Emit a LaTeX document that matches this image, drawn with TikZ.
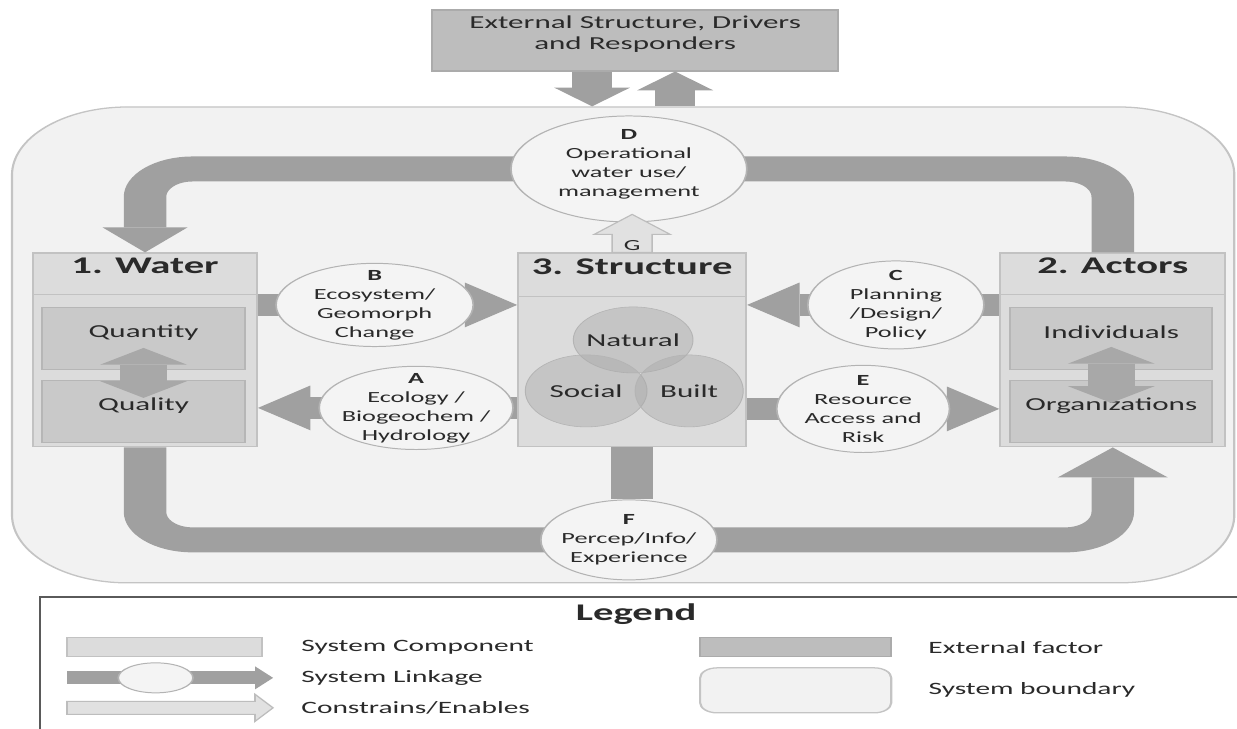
\documentclass[tikz,border=0pt]{standalone}
\usepackage{fontspec}
\setmainfont{Carlito}
\usetikzlibrary{arrows.meta,positioning,fit,shapes.geometric}

\definecolor{sysgray}{HTML}{F2F2F2}
\definecolor{sysline}{HTML}{C4C4C4}
\definecolor{extgray}{HTML}{BDBDBD}
\definecolor{extline}{HTML}{ABABAB}
\definecolor{bandgray}{HTML}{A0A0A0}
\definecolor{pairgray}{HTML}{A8A8A8}
\definecolor{boxgray}{HTML}{DCDCDC}
\definecolor{boxline}{HTML}{C2C2C2}
\definecolor{innergray}{HTML}{C9C9C9}
\definecolor{innerline}{HTML}{B6B6B6}
\definecolor{ovalfill}{HTML}{F4F4F4}
\definecolor{ovalline}{HTML}{B3B3B3}
\definecolor{venngray}{HTML}{A9A9A9}
\definecolor{vennline}{HTML}{B4B4B4}
\definecolor{enablefill}{HTML}{E1E1E1}
\definecolor{enableline}{HTML}{BDBDBD}
\definecolor{legline}{HTML}{5A5A5A}
\definecolor{txtgray}{HTML}{2A2A2A}

\newcommand{\cmptitlefont}{\fontsize{17}{20}\selectfont\bfseries}
\newcommand{\cmpfont}{\fontsize{13}{15}\selectfont}
\newcommand{\lnkfont}{\fontsize{11}{13.5}\selectfont}
\newcommand{\lgdfont}{\fontsize{12.3}{14}\selectfont}

\begin{document}
\begin{tikzpicture}[
  every node/.style={text=txtgray},
  sysbound/.style={draw=sysline, fill=sysgray, line width=0.9pt, inner sep=0pt, rounded corners=1.7cm},
  extbox/.style={draw=extline, fill=extgray, inner sep=0pt, line width=0.8pt, align=center, font=\cmpfont},
  component/.style={draw=boxline, fill=boxgray, inner sep=0pt, line width=0.8pt},
  subbox/.style={draw=innerline, fill=innergray, inner sep=0pt, line width=0.8pt, font=\cmpfont},
  venn/.style={ellipse, draw=vennline, fill=venngray, fill opacity=0.45, text opacity=1, inner sep=0pt},
  linkoval/.style={ellipse, draw=ovalline, fill=ovalfill, inner sep=0pt, line width=0.7pt},
  linktext/.style={align=center, font=\lnkfont},
  linkband/.style={draw=bandgray, line width=0.55cm, -{Triangle[length=0.77cm, width=1.12cm, line width=0pt]}},
  loopband/.style={draw=bandgray, line width=0.625cm, rounded corners=0.7cm},
  extarrow/.style={draw=bandgray, line width=0.59cm, -{Triangle[length=0.47cm, width=1.12cm, line width=0pt]}},
  pairarrow/.style={draw=pairgray, line width=0.69cm, {Triangle[length=0.42cm, width=1.28cm, line width=0pt]}-{Triangle[length=0.42cm, width=1.28cm, line width=0pt]}},
  enablearrow/.style={draw=enableline, fill=enablefill, line width=0.7pt},
  lgdtext/.style={font=\lgdfont},
]
\useasboundingbox (0,0) rectangle (30.925,-18.2);

% picture is stretched sideways, coordinates in pixels
\begin{scope}[x=0.0147059cm, y=-0.025cm, transform canvas={xscale=1.7}]

% system boundary and external factor
\node[sysbound, fit={(12,107) (1234,583)}] (sys) {};
\node[extbox, fit={(432,10) (838,71)}] (ext) {External Structure, Drivers\\and Responders};
\draw[extarrow] (ext.south -| 592,0) -- (sys.north -| 592,0);
\draw[extarrow] (sys.north -| 675,0) -- (ext.south -| 675,0);

% 1. Water
\node[component, fit={(33,253) (257,447)}] (water) {};
\node[component, font=\cmptitlefont, fit={(33,253) (257,295)}] (watertitle) {1. Water};
\node[subbox, fit={(42,308) (245,370)}] (quantity) {Quantity};
\node[subbox, fit={(42,381) (245,443)}] (quality) {Quality};
\draw[pairarrow, shorten <=0.225cm, shorten >=0.35cm] (quantity.center) -- (quality.center);

% 3. Structure
\node[component, fit={(518,253) (746,447)}] (struct) {};
\node[component, font=\cmptitlefont, fit={(518,253) (746,297)}] (structtitle) {3. Structure};
\node[venn, minimum width=1.76cm, minimum height=1.65cm, label={[font=\cmpfont]center:Natural}] (natural) at (633,340) {};
\node[venn, minimum width=1.79cm, minimum height=1.8cm, label={[font=\cmpfont]center:Social}] (social) at (586,391) {};
\node[venn, minimum width=1.59cm, minimum height=1.8cm, label={[font=\cmpfont]center:Built}] (built) at (689,391) {};

% 2. Actors
\node[component, fit={(1000,253) (1225,447)}] (actors) {};
\node[component, font=\cmptitlefont, fit={(1000,253) (1225,295)}] (actorstitle) {2. Actors};
\node[subbox, fit={(1010,308) (1212,370)}] (individuals) {Individuals};
\node[subbox, fit={(1010,381) (1212,443)}] (organizations) {Organizations};
\draw[pairarrow, shorten <=0.2cm, shorten >=0.225cm] (individuals.center) -- (organizations.center);

% linkages
\draw[linkband] (water.east |- 0,305) -- node[linkoval, pos=0.45, minimum width=2.9cm, minimum height=2.08cm,
  label={[linktext]center:\textbf{B}\\Ecosystem/\\Geomorph\\Change}] (B) {} (struct.west |- 0,305);
\draw[linkband] (struct.west |- 0,408) -- node[linkoval, pos=0.39, minimum width=2.85cm, minimum height=2.08cm,
  label={[linktext]center:\textbf{A}\\Ecology /\\Biogeochem /\\Hydrology}] (A) {} (water.east |- 0,408);
\draw[linkband] (actors.west |- 0,305) -- node[linkoval, pos=0.41, minimum width=2.59cm, minimum height=2.2cm,
  label={[linktext]center:\textbf{C}\\Planning\\/Design/\\Policy}] (C) {} (struct.east |- 0,305);
\draw[linkband] (struct.east |- 0,409) -- node[linkoval, pos=0.46, minimum width=2.54cm, minimum height=2.18cm,
  label={[linktext]center:\textbf{E}\\Resource\\Access and\\Risk}] (E) {} (actors.west |- 0,409);

\draw[loopband, -{Triangle[length=0.625cm, width=1.25cm, line width=0pt]}]
  (actors.north) |- node[linkoval, pos=0.75, minimum width=3.47cm, minimum height=2.65cm,
  label={[linktext, yshift=3pt]center:\textbf{D}\\Operational\\water use/\\management}] (D) {}
  (water.north |- 0,169) -- (water.north);
\draw[loopband, -{Triangle[length=0.75cm, width=1.62cm, line width=0pt]}]
  (water.south) |- node[linkoval, pos=0.75, minimum width=2.59cm, minimum height=2.0cm,
  label={[linktext]center:\textbf{F}\\Percep/Info/\\Experience}] (F) {}
  (actors.south |- 0,540) -- (actors.south);
\draw[loopband] (struct.south) -- (struct.south |- F.north);

% G: constrains/enables
\filldraw[enablearrow] (struct.north) +(-20,0) -- +(-20,-18) -- +(-38,-18) -- +(0,-38)
  -- +(38,-18) -- +(20,-18) -- +(20,0) -- cycle;
\node[font=\lnkfont] (glabel) at ([yshift=5pt]struct.north) {G};

% legend
\node[draw=legline, fill=white, line width=1.2pt, inner sep=0pt, fit={(40,597) (1245,735)}] (legend) {};
\node[font=\fontsize{17}{20}\selectfont\bfseries] (legendtitle) at (636,614) {Legend};
\node[component, fit={(67,638) (262,657)}] (lgcomp) {};
\node[lgdtext, right=0.44cm of lgcomp] (lgcomptext) {System Component};
\coordinate (lglinkA) at (67,678);
\coordinate (lglinkB) at (273,678);
\draw[draw=bandgray, line width=0.325cm, -{Triangle[length=0.265cm, width=0.575cm, line width=0pt]}]
  (lglinkA) -- node[linkoval, pos=0.43, minimum width=1.1cm, minimum height=0.75cm] (lglinkoval) {} (lglinkB);
\node[lgdtext, anchor=west] (lglinktext) at (lgcomptext.west |- lglinkA) {System Linkage};
\coordinate (lgenable) at (67,708);
\filldraw[enablearrow] (lgenable) +(0,-6.5) -- +(188,-6.5) -- +(188,-13.5) -- +(206,0)
  -- +(188,13.5) -- +(188,6.5) -- +(0,6.5) -- cycle;
\node[lgdtext, anchor=west] (lgenabletext) at (lgcomptext.west |- lgenable) {Constrains/Enables};
\node[extbox, fit={(700,638) (891,657)}] (lgext) {};
\node[lgdtext, right=0.41cm of lgext] (lgexttext) {External factor};
\node[sysbound, rounded corners=0.25cm, fit={(700,668) (891,713)}] (lgsys) {};
\node[lgdtext, right=0.41cm of lgsys] (lgsystext) {System boundary};

\end{scope}
\end{tikzpicture}
\end{document}
